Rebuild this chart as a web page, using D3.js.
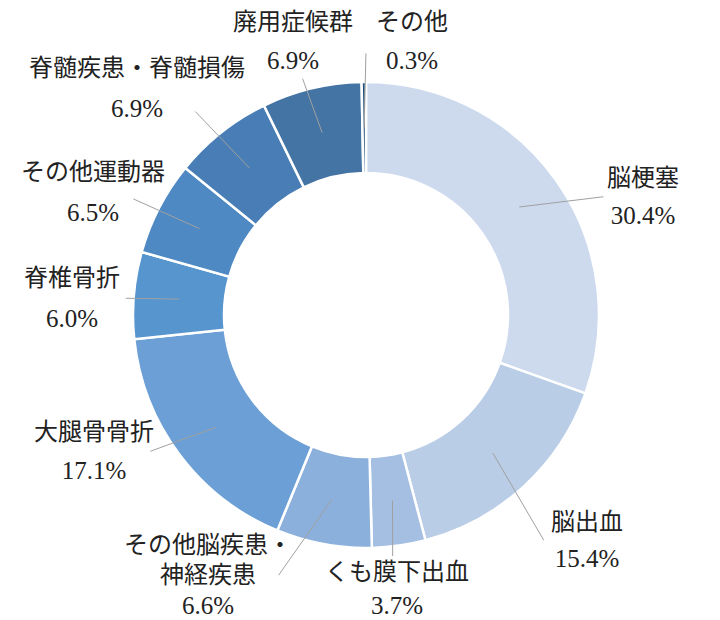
<!DOCTYPE html>
<html>
<head>
<meta charset="utf-8">
<script src="https://cdn.jsdelivr.net/npm/d3@7"></script>
<style>
  body { margin: 0; background: #fff; }
</style>
</head>
<body>
<div id="chart"></div>
<script>
// data (percent of cases)
const categories = ['脳梗塞', '脳出血', 'くも膜下出血', 'その他脳疾患・神経疾患', '大腿骨骨折',
    '脊椎骨折', 'その他運動器', '脊髄疾患・脊髄損傷', '廃用症候群', 'その他'];
const shares = [30.4, 15.4, 3.7, 6.6, 17.1, 6.0, 6.5, 6.9, 6.9, 0.3];
// how each category name is broken into lines in the label
const nameLines = [['脳梗塞'], ['脳出血'], ['くも膜下出血'], ['その他脳疾患・', '神経疾患'], ['大腿骨骨折'],
    ['脊椎骨折'], ['その他運動器'], ['脊髄疾患・脊髄損傷'], ['廃用症候群'], ['その他']];

// styles / layout
const palette = ['#cddaee', '#b9cde7', '#a4bfe2', '#8cb0dc', '#6b9fd5',
    '#5795cf', '#4e89c4', '#487eb5', '#4374a4', '#1f4e79'];
// first-line centre of each label, line gap, and where the leader meets the label box
const labelPos = [[643, 178], [587, 522], [397, 572], [208, 545], [94, 432],
    [72, 278], [93, 172], [137, 68], [293, 22], [412, 22]];
const lineGap = [37, 36, 33, 30, 38, 40, 40, 40, 38, 38];
const leaderAnchor = [[-0.05, 0.5], [-0.1, 0.5], [0.47, -0.05], [0.92, 0.5], [0.97, 0.5],
    [1.06, 0.5], [0.78, 0.6], [0.77, 0.85], [0.58, 1.08], [-0.14, 0.69]];

const width = 720, height = 620;
const cx = 366, cy = 315, rOuter = 233, rInner = 142;

var svg = d3.select("#chart")
    .append("svg")
    .attr("width", width)
    .attr("height", height);

var pie = d3.pie().sort(null).value(function (d) { return d; });
var arcs = pie(shares);

var arc = d3.arc().innerRadius(rInner).outerRadius(rOuter);
var mid = d3.arc().innerRadius((rInner + rOuter) / 2).outerRadius((rInner + rOuter) / 2);

var g = svg.append("g").attr("transform", "translate(" + cx + "," + cy + ")");

g.selectAll("path.slice")
    .data(arcs)
    .enter().append("path")
    .attr("class", "slice")
    .attr("d", arc)
    .style("fill", function (d, i) { return palette[i]; })
    .style("stroke", "#ffffff")
    .style("stroke-width", "2.5px");

// labels
var fmt = d3.format(".1f");
var labels = svg.append("g")
    .style("font-family", "'Liberation Serif', 'Noto Sans CJK JP', serif")
    .style("font-size", "24px")
    .style("fill", "#222222");

var leaders = svg.append("g")
    .style("stroke", "#a0a0a0")
    .style("stroke-width", "1px")
    .style("fill", "none");

arcs.forEach(function (d, i) {
    var lines = nameLines[i].concat([fmt(shares[i]) + "%"]);
    var lg = labels.append("g");
    lines.forEach(function (t, k) {
        lg.append("text")
            .attr("x", labelPos[i][0])
            .attr("y", labelPos[i][1] + k * lineGap[i])
            .attr("text-anchor", "middle")
            .attr("dominant-baseline", "central")
            // percent line a touch bigger, like the reference
            .style("font-size", k === lines.length - 1 ? "25px" : null)
            .text(t);
    });
    var bb = lg.node().getBBox();
    var c = mid.centroid(d);
    var ex = bb.x + leaderAnchor[i][0] * bb.width;
    var ey = bb.y + leaderAnchor[i][1] * bb.height;
    leaders.append("line")
        .attr("x1", cx + c[0])
        .attr("y1", cy + c[1])
        .attr("x2", ex)
        .attr("y2", ey);
});
</script>
</body>
</html>
